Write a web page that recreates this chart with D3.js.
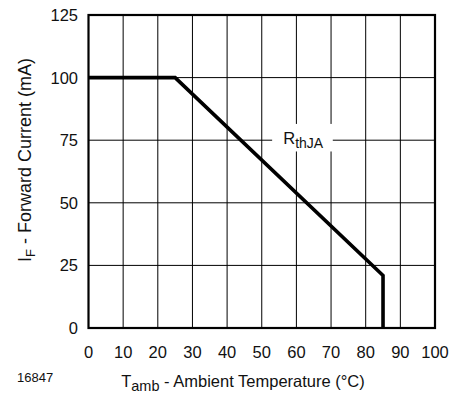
<!DOCTYPE html>
<html><head><meta charset="utf-8">
<script src="https://cdn.jsdelivr.net/npm/d3@7"></script>
<style>body{margin:0;background:#fff;} text{font-family:"Liberation Sans",Arial,sans-serif;fill:#111;}</style>
</head><body>
<svg id="c" width="452" height="396"></svg>
<script>
const xTicks = [0,10,20,30,40,50,60,70,80,90,100];
const yTicks = [0,25,50,75,100,125];
const tempC = [0, 25, 85, 85];
const currentMA = [100, 100, 21, 0];
const curveLabel = "R";
const figId = "16847";

const svg = d3.select("#c");
const L=88.5, R=435, T=15, B=328;
const x = d3.scaleLinear().domain([0,100]).range([L,R]);
const y = d3.scaleLinear().domain([0,125]).range([B,T]);

// grid
svg.append("g").selectAll("line").data(xTicks.slice(1,-1)).join("line")
  .attr("x1",d=>x(d)).attr("x2",d=>x(d)).attr("y1",T).attr("y2",B)
  .attr("stroke","#000").attr("stroke-width",1);
svg.append("g").selectAll("line").data(yTicks.slice(1,-1)).join("line")
  .attr("y1",d=>y(d)).attr("y2",d=>y(d)).attr("x1",L).attr("x2",R)
  .attr("stroke","#000").attr("stroke-width",1);

// label background
svg.append("rect").attr("x",x(53)).attr("y",y(81.5)).attr("width",x(70.5)-x(53)).attr("height",y(70.5)-y(81.5)).attr("fill","#fff");
const lab = svg.append("text").attr("x",x(56.2)).attr("y",y(73.5)).attr("font-size",16.5);
lab.append("tspan").text(curveLabel);
lab.append("tspan").attr("font-size",14).attr("dy",4).text("thJA");

// frame
svg.append("rect").attr("x",L).attr("y",T).attr("width",R-L).attr("height",B-T)
  .attr("fill","none").attr("stroke","#000").attr("stroke-width",2.2);

// curve
const pts = tempC.map((t,i)=>[t,currentMA[i]]);
svg.append("path").datum(pts)
  .attr("d",d3.line().x(d=>x(d[0])).y(d=>y(d[1])))
  .attr("fill","none").attr("stroke","#000").attr("stroke-width",3.6).attr("stroke-linejoin","miter");

// tick labels
svg.append("g").selectAll("text").data(xTicks).join("text")
  .attr("x",d=>x(d)).attr("y",358).attr("text-anchor","middle").attr("font-size",16.5).text(d=>d);
svg.append("g").selectAll("text").data(yTicks).join("text")
  .attr("x",78).attr("y",d=>y(d)+6).attr("text-anchor","end").attr("font-size",16.5).text(d=>d);

// x title
const xt = svg.append("text").attr("x",243).attr("y",387).attr("text-anchor","middle").attr("font-size",16.5);
xt.append("tspan").text("T");
xt.append("tspan").attr("font-size",14.5).attr("dy",4).text("amb");
xt.append("tspan").attr("dy",-4).text(" - Ambient Temperature (°C)");

// y title
const yt = svg.append("text").attr("transform","translate(31,160) rotate(-90)").attr("text-anchor","middle").attr("font-size",18);
yt.append("tspan").text("I");
yt.append("tspan").attr("font-size",13).attr("dy",4).text("F");
yt.append("tspan").attr("dy",-4).text(" - Forward Current (mA)");

svg.append("text").attr("x",17).attr("y",382).attr("font-size",13).text(figId);
</script>
</body></html>
